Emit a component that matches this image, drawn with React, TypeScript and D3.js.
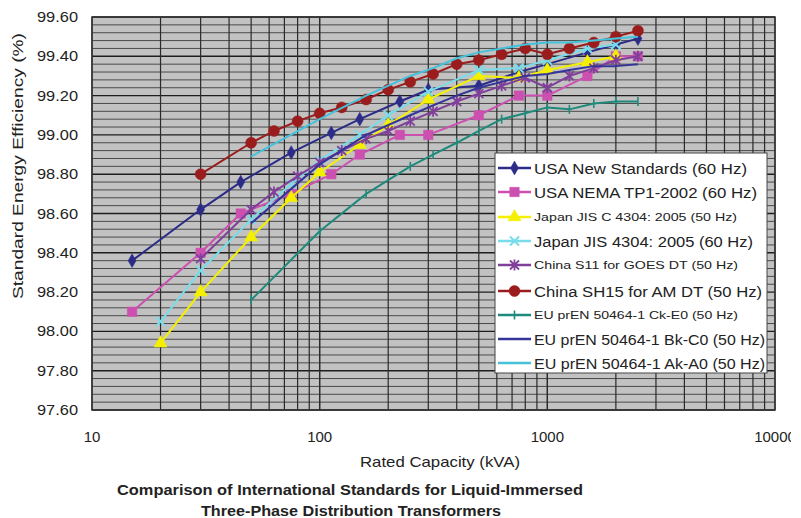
import React from "react";
import * as d3 from "d3";

const W = 801;
const H = 518;

// kVA ratings
const kvaUSA = [15, 30, 45, 75, 112.5, 150, 225, 300, 500, 750, 1000, 1500, 2000, 2500];
const kvaJIS = [20, 30, 50, 75, 100, 150, 200, 300, 500, 750, 1000, 1500, 2000];
const kvaChina = [30, 50, 63, 80, 100, 125, 160, 200, 250, 315, 400, 500, 630, 800, 1000, 1250, 1600, 2000, 2500];
const kvaEU = [50, 100, 160, 250, 315, 400, 500, 630, 800, 1000, 1250, 1600, 2000, 2500];

// efficiencies (%)
const usaNew = [98.36, 98.62, 98.76, 98.91, 99.01, 99.08, 99.17, 99.23, 99.25, 99.32, 99.36, 99.42, 99.46, 99.49];
const usaNema = [98.1, 98.4, 98.6, 98.7, 98.8, 98.9, 99.0, 99.0, 99.1, 99.2, 99.2, 99.3, 99.4, 99.4];
const jis50 = [97.94, 98.2, 98.48, 98.68, 98.81, 98.95, 99.05, 99.18, 99.3, 99.29, 99.33, 99.37, 99.4];
const jis60 = [98.05, 98.31, 98.57, 98.75, 98.87, 99.0, 99.1, 99.22, 99.33, 99.34, 99.38, 99.44, 99.46];
const chinaS11 = [98.37, 98.62, 98.71, 98.79, 98.86, 98.92, 98.98, 99.02, 99.07, 99.12, 99.17, 99.21, 99.25, 99.29, 99.24, 99.3, 99.34, 99.38, 99.4];
const chinaSH15 = [98.8, 98.96, 99.02, 99.07, 99.11, 99.14, 99.18, 99.23, 99.27, 99.31, 99.36, 99.38, 99.41, 99.44, 99.41, 99.44, 99.47, 99.5, 99.53];
const euCkE0 = [98.16, 98.51, 98.7, 98.84, 98.9, 98.96, 99.02, 99.08, 99.11, 99.14, 99.13, 99.16, 99.17, 99.17];
const euBkC0 = [98.55, 98.85, 99.0, 99.1, 99.15, 99.2, 99.24, 99.27, 99.3, 99.31, 99.33, 99.35, 99.35, 99.36];
const euAkA0 = [98.89, 99.08, 99.2, 99.3, 99.34, 99.39, 99.42, 99.44, 99.46, 99.47, 99.47, 99.48, 99.49, 99.5];

const yTicks = [97.6, 97.8, 98.0, 98.2, 98.4, 98.6, 98.8, 99.0, 99.2, 99.4, 99.6];
const xTicks = [10, 100, 1000, 10000];

type Marker = "diamond" | "square" | "triangle" | "x" | "asterisk" | "circle" | "plus" | "none";

interface Series {
  name: string;
  kva: number[];
  vals: number[];
  color: string;
  marker: Marker;
  small: boolean;
  textLen: number;
}

const series: Series[] = [
  { name: "USA New Standards (60 Hz)", kva: kvaUSA, vals: usaNew, color: "#2c2c88", marker: "diamond", small: false, textLen: 213 },
  { name: "USA NEMA TP1-2002 (60 Hz)", kva: kvaUSA, vals: usaNema, color: "#cc50b0", marker: "square", small: false, textLen: 223 },
  { name: "Japan JIS C 4304: 2005 (50 Hz)", kva: kvaJIS, vals: jis50, color: "#f4f000", marker: "triangle", small: true, textLen: 203 },
  { name: "Japan JIS 4304: 2005 (60 Hz)", kva: kvaJIS, vals: jis60, color: "#78dcea", marker: "x", small: false, textLen: 219 },
  { name: "China S11 for GOES DT (50 Hz)", kva: kvaChina, vals: chinaS11, color: "#80409a", marker: "asterisk", small: true, textLen: 204 },
  { name: "China SH15 for AM DT (50 Hz)", kva: kvaChina, vals: chinaSH15, color: "#9a1c1c", marker: "circle", small: false, textLen: 228 },
  { name: "EU prEN 50464-1 Ck-E0 (50 Hz)", kva: kvaEU, vals: euCkE0, color: "#1f8a7c", marker: "plus", small: true, textLen: 204 },
  { name: "EU prEN 50464-1 Bk-C0 (50 Hz)", kva: kvaEU, vals: euBkC0, color: "#34349a", marker: "none", small: false, textLen: 231 },
  { name: "EU prEN 50464-1 Ak-A0 (50 Hz)", kva: kvaEU, vals: euAkA0, color: "#44c2dc", marker: "none", small: false, textLen: 231 },
];

const FONT = "'Liberation Sans', Arial, sans-serif";

function MarkerShape({ m, color, cx, cy }: { m: Marker; color: string; cx: number; cy: number }) {
  const t = `translate(${cx},${cy})`;
  switch (m) {
    case "diamond":
      return <path transform={t} d={d3.symbol(d3.symbolDiamond, 55)()!} fill={color} stroke={color} strokeWidth={0.5} />;
    case "square":
      return <path transform={t} d={d3.symbol(d3.symbolSquare, 90)()!} fill={color} stroke={color} strokeWidth={0.5} />;
    case "triangle":
      return <path transform={t} d={d3.symbol(d3.symbolTriangle, 75)()!} fill={color} stroke={color} strokeWidth={0.5} />;
    case "x":
      return <path transform={t} d="M-4.5,-4.5L4.5,4.5M-4.5,4.5L4.5,-4.5" stroke={color} strokeWidth={2} fill="none" />;
    case "asterisk":
      return <path transform={t} d="M-4.5,-4.5L4.5,4.5M-4.5,4.5L4.5,-4.5M0,-5.5L0,5.5" stroke={color} strokeWidth={1.8} fill="none" />;
    case "circle":
      return <circle cx={cx} cy={cy} r={5.5} fill={color} stroke={color} strokeWidth={0.5} />;
    case "plus":
      return <path transform={t} d="M0,-4.5L0,4.5" stroke={color} strokeWidth={1.6} fill="none" />;
    default:
      return null;
  }
}

export default function App() {
  const x = d3.scaleLog().domain([10, 10000]).range([92, 775]);
  const y = d3.scaleLinear().domain([97.6, 99.6]).range([410, 17]);
  const [x0, x1] = x.range();
  const [yb, yt] = y.range();

  const hLines = d3.range(0, 51).map((i) => 97.6 + i * 0.04);
  const vLines: number[] = [];
  [10, 100, 1000].forEach((d) => {
    for (let k = 1; k <= 10; k++) vLines.push(d * k);
  });

  const line = d3
    .line<[number, number]>()
    .x((d) => x(d[0]))
    .y((d) => y(d[1]));

  const lgX = 495;
  const lgY = 153;
  const lgW = 272;
  const lgH = 220;
  const rowYs = [168, 192, 217, 241, 265, 291, 315, 339, 363];

  return (
    <svg width={W} height={H} style={{ position: "absolute", left: 0, top: 0, background: "#fff" }} fontFamily={FONT}>
      <defs>
        <clipPath id="imgclip">
          <rect x={0} y={0} width={791} height={H} />
        </clipPath>
      </defs>
      <rect x={0} y={0} width={W} height={H} fill="#fff" />
      {/* plot background */}
      <rect x={x0} y={yt} width={x1 - x0} height={yb - yt} fill="#c2c2c2" />
      {/* horizontal gridlines */}
      {hLines.map((v, i) => (
        <line
          key={"h" + i}
          x1={x0}
          x2={x1}
          y1={y(v)}
          y2={y(v)}
          stroke={i % 5 === 0 ? "#1e1e1e" : "#4a4a4a"}
          strokeWidth={i % 5 === 0 ? 1.4 : 1}
        />
      ))}
      {/* vertical gridlines */}
      {vLines.map((v, i) => (
        <line key={"v" + i} x1={x(v)} x2={x(v)} y1={yt} y2={yb} stroke="#2a2a2a" strokeWidth={1.2} />
      ))}
      <rect x={x0} y={yt} width={x1 - x0} height={yb - yt} fill="none" stroke="#333" strokeWidth={1.5} />

      {/* series */}
      {series.map((s) => {
        const pts = s.kva.map((k, i) => [k, s.vals[i]] as [number, number]);
        return (
          <g key={s.name}>
            <path d={line(pts)!} fill="none" stroke={s.color} strokeWidth={2} strokeLinejoin="round" />
            {pts.map((p, i) => (
              <MarkerShape key={i} m={s.marker} color={s.color} cx={x(p[0])} cy={y(p[1])} />
            ))}
          </g>
        );
      })}

      {/* y tick labels */}
      {yTicks.map((v) => (
        <text key={"yt" + v} x={78} y={y(v) + 5} textAnchor="end" fontSize={15} fill="#222" textLength={41} lengthAdjust="spacingAndGlyphs">
          {v.toFixed(2)}
        </text>
      ))}
      {/* x tick labels */}
      <g clipPath="url(#imgclip)">
        {xTicks.map((v) => (
          <text key={"xt" + v} x={x(v)} y={442} textAnchor="middle" fontSize={15} fill="#222">
            {String(v)}
          </text>
        ))}
      </g>
      {/* axis titles */}
      <text
        transform={`translate(23,166) rotate(-90)`}
        textAnchor="middle"
        fontSize={15}
        fill="#222"
        textLength={266}
        lengthAdjust="spacingAndGlyphs"
      >
        Standard Energy Efficiency (%)
      </text>
      <text x={440} y={467} textAnchor="middle" fontSize={15} fill="#222" textLength={160} lengthAdjust="spacingAndGlyphs">
        Rated Capacity (kVA)
      </text>
      <text x={350} y={495} textAnchor="middle" fontSize={15} fontWeight="bold" fill="#222" textLength={466} lengthAdjust="spacingAndGlyphs">
        Comparison of International Standards for Liquid-Immersed
      </text>
      <text x={351} y={516} textAnchor="middle" fontSize={15} fontWeight="bold" fill="#222" textLength={300} lengthAdjust="spacingAndGlyphs">
        Three-Phase Distribution Transformers
      </text>

      {/* legend */}
      <rect x={lgX} y={lgY} width={lgW} height={lgH} fill="#fff" stroke="#444" strokeWidth={1} />
      {series.map((s, i) => {
        const ry = rowYs[i];
        return (
          <g key={"lg" + i}>
            <line x1={498} x2={531} y1={ry} y2={ry} stroke={s.color} strokeWidth={2.5} />
            <MarkerShape m={s.marker} color={s.color} cx={514.5} cy={ry} />
            <text
              x={534}
              y={ry + (s.small ? 4 : 5.5)}
              fontSize={s.small ? 11.5 : 15.5}
              fill="#222"
              textLength={s.textLen}
              lengthAdjust="spacingAndGlyphs"
            >
              {s.name}
            </text>
          </g>
        );
      })}
    </svg>
  );
}
